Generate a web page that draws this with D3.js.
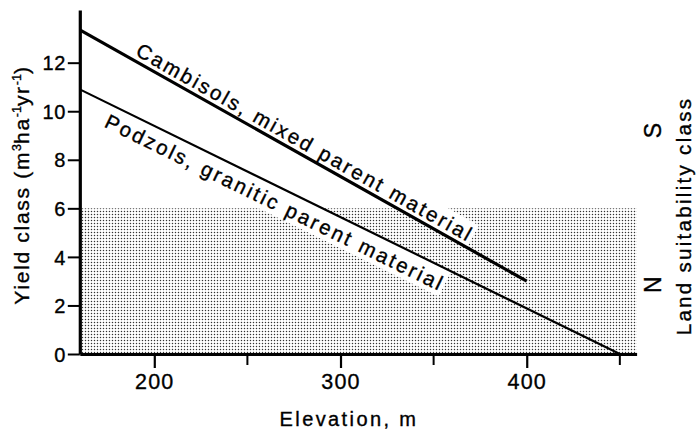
<!DOCTYPE html>
<html><head><meta charset="utf-8">
<script src="https://cdn.jsdelivr.net/npm/d3@7/dist/d3.min.js"></script>
<style>
body{margin:0;background:#fff}
svg{display:block}
text{font-family:"Liberation Sans",Arial,Helvetica,sans-serif;fill:#000;stroke:#000;stroke-width:0.35px}
</style>
</head><body>
<svg id="chart" width="696" height="433"></svg>
<script>
// ---- data ----
const seriesNames = ["Cambisols, mixed parent material", "Podzols, granitic parent material"];
const cambisolsElevation = [160, 400];
const cambisolsYield = [13.35, 3.0];
const podzolsElevation = [160, 450];
const podzolsYield = [10.9, 0];
const xMajorTicks = [200, 300, 400];
const xMinorTicks = [250, 350, 450];
const yTicks = [0, 2, 4, 6, 8, 10, 12];
const suitabilityThreshold = 6;
const suitabilityClasses = ["S", "N"];
const suitabilityLabelYield = [9.2, 2.85];
const xDomain = [160, 459];
const yDomain = [0, 14.17];

// ---- layout ----
const svg = d3.select("#chart");
const x = d3.scaleLinear().domain(xDomain).range([79.8, 636.6]);
const y = d3.scaleLinear().domain(yDomain).range([354, 10]);

const defs = svg.append("defs");
const pat = defs.append("pattern").attr("id", "stipple").attr("patternUnits", "userSpaceOnUse")
  .attr("width", 3).attr("height", 3);
pat.append("rect").attr("width", 3).attr("height", 3).attr("fill", "#fff");
pat.append("circle").attr("cx", 1.5).attr("cy", 1.5).attr("r", 0.72).attr("fill", "#333");

// shaded "not suitable" zone
svg.append("rect")
  .attr("x", x(xDomain[0])).attr("y", y(suitabilityThreshold))
  .attr("width", x(xDomain[1]) - x(xDomain[0]))
  .attr("height", y(0) - y(suitabilityThreshold))
  .attr("fill", "url(#stipple)");

const labelLayer = svg.append("g");
const lineLayer = svg.append("g");

const series = [
  {name: seriesNames[0], xs: cambisolsElevation, ys: cambisolsYield, width: 3.2, start: 188, offset: -5, len: 381},
  {name: seriesNames[1], xs: podzolsElevation, ys: podzolsYield, width: 2.2, start: 178, offset: 23, len: 373}
];

const line = d3.line().x(d => x(d[0])).y(d => y(d[1]));
series.forEach(s => {
  const pts = s.xs.map((v, i) => [v, s.ys[i]]);
  lineLayer.append("path").attr("d", line(pts)).attr("fill", "none")
    .attr("stroke", "#000").attr("stroke-width", s.width);

  const p0 = [x(s.xs[0]), y(s.ys[0])], p1 = [x(s.xs[1]), y(s.ys[1])];
  const ang = Math.atan2(p1[1] - p0[1], p1[0] - p0[0]);
  const t = (s.start - s.xs[0]) / (s.xs[1] - s.xs[0]);
  const px = p0[0] + t * (p1[0] - p0[0]), py = p0[1] + t * (p1[1] - p0[1]);
  const g = labelLayer.append("g").attr("transform", `translate(${px},${py}) rotate(${ang * 180 / Math.PI})`);
  const rect = g.append("rect").attr("fill", "#fff");
  const txt = g.append("text").attr("x", 0).attr("y", s.offset).attr("font-size", 20.5)
    .attr("textLength", s.len).attr("lengthAdjust", "spacing").text(s.name);
  const b = txt.node().getBBox();
  const top = Math.min(b.y - 1, 0), bottom = Math.max(b.y + b.height + 1, 0);
  rect.attr("x", b.x - 3).attr("width", b.width + 6).attr("y", top).attr("height", bottom - top);
});

// ---- axes ----
const yAxis = svg.append("g").attr("transform", `translate(${x(xDomain[0])},0)`)
  .call(d3.axisLeft(y).tickValues(yTicks).tickSize(12).tickSizeOuter(0).tickPadding(2).tickFormat(d3.format("d")));
yAxis.select(".domain").attr("stroke-width", 3.2);
yAxis.selectAll(".tick line").attr("stroke-width", 2);
yAxis.selectAll(".tick text").attr("font-size", 20).attr("font-family", null).attr("letter-spacing", 0.5).attr("dy", "0.36em");

const xAxis = svg.append("g").attr("transform", `translate(0,${y(0)})`)
  .call(d3.axisBottom(x).tickValues(xMajorTicks).tickSize(14).tickSizeOuter(0).tickPadding(6).tickFormat(d3.format("d")));
xAxis.select(".domain").attr("stroke-width", 3.2);
xAxis.selectAll(".tick line").attr("stroke-width", 2.2);
xAxis.selectAll(".tick text").attr("font-size", 21.5).attr("font-family", null).attr("letter-spacing", 1.2);
yAxis.attr("font-family", null); xAxis.attr("font-family", null);

svg.append("g").selectAll("line").data(xMinorTicks).join("line")
  .attr("x1", d => x(d)).attr("x2", d => x(d))
  .attr("y1", y(0)).attr("y2", y(0) + 11)
  .attr("stroke", "#000").attr("stroke-width", 2);

// ---- titles ----
svg.append("text").attr("x", 349).attr("y", 426).attr("text-anchor", "middle")
  .attr("font-size", 20).attr("letter-spacing", 2.4).text("Elevation, m");

const yt = svg.append("text").attr("transform", "translate(29,185) rotate(-90)")
  .attr("text-anchor", "middle").attr("font-size", 21).attr("letter-spacing", 1.7);
yt.append("tspan").text("Yield class (m");
yt.append("tspan").attr("font-size", 12.5).attr("dy", -8).attr("letter-spacing", 0).text("3");
yt.append("tspan").attr("dy", 8).text("ha");
yt.append("tspan").attr("font-size", 12.5).attr("dy", -8).attr("letter-spacing", 0).text("-1");
yt.append("tspan").attr("dy", 8).text("yr");
yt.append("tspan").attr("font-size", 12.5).attr("dy", -8).attr("letter-spacing", 0).text("-1");
yt.append("tspan").attr("dy", 8).text(")");

svg.append("text").attr("transform", "translate(691,216) rotate(-90)")
  .attr("text-anchor", "middle").attr("font-size", 20.5).attr("letter-spacing", 2.3)
  .text("Land suitability class");

svg.append("g").selectAll("text").data(suitabilityClasses).join("text")
  .attr("transform", (d, i) => `translate(661,${y(suitabilityLabelYield[i])}) rotate(-90)`)
  .attr("text-anchor", "middle").attr("font-size", 23).text(d => d);
</script>
</body></html>
